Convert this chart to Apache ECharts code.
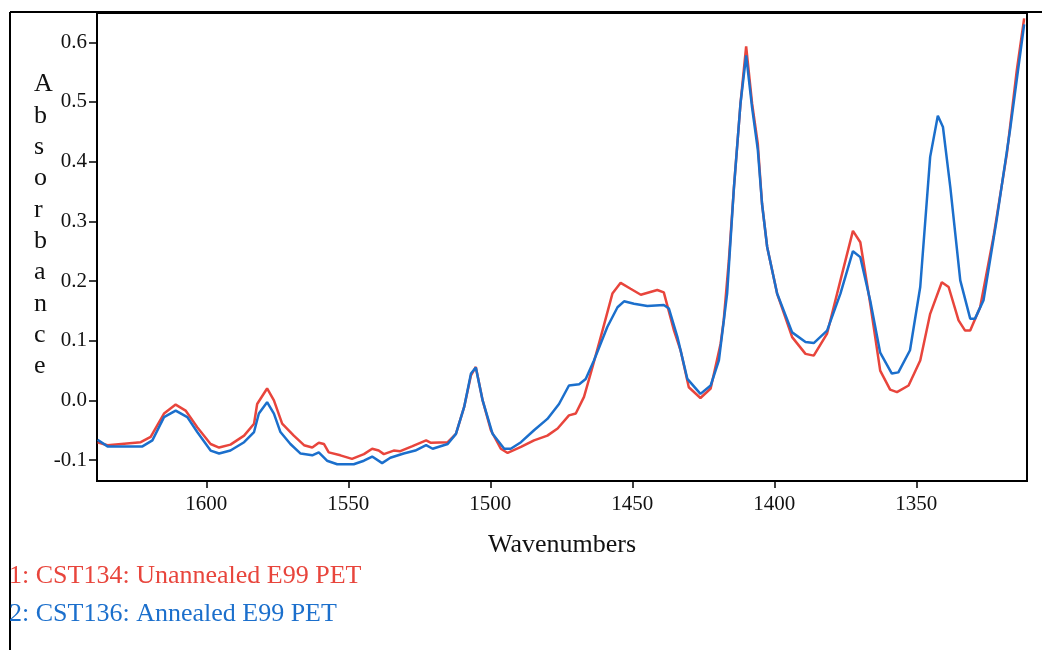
<!DOCTYPE html>
<html>
<head>
<meta charset="utf-8">
<script src="https://cdn.jsdelivr.net/npm/echarts@6/dist/echarts.min.js"></script>
<style>
  html, body { margin: 0; padding: 0; background: #fff; }
  #chart { width: 1042px; height: 650px; }
</style>
</head>
<body>
<div id="chart"></div>
<script>
// IR spectra, wavenumbers (x axis runs high -> low)
var redWn = [1638.3, 1634.8, 1623.1, 1619.6, 1614.9, 1610.8, 1607.3, 1603.2, 1598.5, 1595.5,
    1591.5, 1586.7, 1583.2, 1582.1, 1578.6, 1576.2, 1573.3, 1569.2, 1565.6, 1562.7,
    1560.4, 1558.6, 1556.9, 1552.8, 1548.7, 1544.5, 1541.6, 1539.3, 1537.5, 1534.0,
    1531.7, 1527.6, 1522.6, 1520.9, 1515.0, 1512.1, 1509.2, 1506.8, 1505.1, 1502.7,
    1499.8, 1496.3, 1493.9, 1489.2, 1484.6, 1479.9, 1476.3, 1472.3, 1469.9, 1467.0,
    1464.0, 1460.5, 1457.0, 1454.1, 1450.6, 1447.0, 1441.2, 1438.9, 1435.3, 1433.0,
    1430.1, 1426.0, 1422.4, 1418.9, 1417.8, 1416.0, 1414.2, 1411.9, 1409.9, 1407.8,
    1405.8, 1404.3, 1402.5, 1399.0, 1393.7, 1389.0, 1386.1, 1381.4, 1376.7, 1372.3,
    1369.7, 1366.2, 1362.7, 1359.2, 1356.8, 1352.7, 1348.6, 1345.1, 1341.0, 1338.6,
    1335.1, 1332.8, 1331.0, 1327.5, 1322.8, 1318.1, 1314.6, 1312.0];
var redAbs = [-0.070, -0.075, -0.070, -0.061, -0.022, -0.007, -0.017, -0.045, -0.073, -0.079,
    -0.074, -0.059, -0.039, -0.006, 0.020, 0.000, -0.039, -0.059, -0.075, -0.079,
    -0.071, -0.073, -0.087, -0.092, -0.098, -0.090, -0.081, -0.084, -0.090, -0.084,
    -0.085, -0.077, -0.067, -0.071, -0.070, -0.056, -0.011, 0.042, 0.056, 0.000,
    -0.050, -0.081, -0.088, -0.078, -0.067, -0.059, -0.047, -0.025, -0.022, 0.006,
    0.056, 0.117, 0.179, 0.197, 0.187, 0.177, 0.185, 0.181, 0.117, 0.084,
    0.022, 0.004, 0.020, 0.095, 0.134, 0.234, 0.357, 0.497, 0.593, 0.497,
    0.430, 0.329, 0.257, 0.179, 0.106, 0.078, 0.075, 0.112, 0.201, 0.284,
    0.265, 0.162, 0.050, 0.018, 0.014, 0.025, 0.067, 0.145, 0.198, 0.190,
    0.134, 0.117, 0.117, 0.156, 0.274, 0.413, 0.553, 0.640];

var blueWn = [1638.3, 1634.8, 1622.5, 1619.0, 1614.9, 1610.8, 1606.7, 1603.2, 1598.5, 1595.5,
    1591.5, 1586.7, 1583.2, 1581.5, 1578.6, 1576.2, 1573.9, 1570.4, 1566.8, 1562.7,
    1560.4, 1557.5, 1553.9, 1548.1, 1544.5, 1541.6, 1538.1, 1535.2, 1530.5, 1526.4,
    1522.6, 1520.3, 1515.0, 1512.1, 1509.2, 1506.8, 1505.1, 1502.7, 1499.2, 1495.1,
    1492.8, 1489.2, 1484.6, 1479.9, 1475.8, 1472.3, 1468.7, 1466.4, 1463.5, 1458.8,
    1455.2, 1452.9, 1449.4, 1444.7, 1438.9, 1437.1, 1434.1, 1430.6, 1426.0, 1422.4,
    1419.5, 1416.6, 1414.2, 1411.9, 1409.9, 1407.8, 1405.8, 1404.3, 1402.5, 1399.0,
    1393.7, 1389.0, 1386.1, 1381.4, 1376.7, 1372.3, 1369.7, 1366.2, 1362.7, 1358.6,
    1356.3, 1352.2, 1348.6, 1345.1, 1342.4, 1340.6, 1338.0, 1334.5, 1331.0, 1329.3,
    1326.3, 1321.7, 1317.0, 1312.0];
var blueAbs = [-0.066, -0.077, -0.077, -0.067, -0.028, -0.017, -0.028, -0.053, -0.084, -0.089,
    -0.084, -0.070, -0.053, -0.022, -0.003, -0.022, -0.053, -0.073, -0.089, -0.092,
    -0.087, -0.101, -0.107, -0.107, -0.101, -0.094, -0.105, -0.096, -0.089, -0.084,
    -0.075, -0.081, -0.073, -0.056, -0.011, 0.045, 0.055, 0.000, -0.056, -0.081,
    -0.081, -0.070, -0.050, -0.031, -0.006, 0.025, 0.027, 0.036, 0.067, 0.123,
    0.156, 0.166, 0.162, 0.158, 0.160, 0.154, 0.106, 0.036, 0.011, 0.025,
    0.067, 0.179, 0.357, 0.497, 0.578, 0.490, 0.420, 0.329, 0.257, 0.179,
    0.114, 0.098, 0.096, 0.117, 0.179, 0.250, 0.240, 0.167, 0.080, 0.045,
    0.047, 0.084, 0.190, 0.408, 0.477, 0.458, 0.357, 0.201, 0.137, 0.137,
    0.168, 0.302, 0.452, 0.630];

var xTicks = [1600, 1550, 1500, 1450, 1400, 1350];
var yTicks = [-0.1, 0.0, 0.1, 0.2, 0.3, 0.4, 0.5, 0.6];
var legendNames = ['1: CST134: Unannealed E99 PET', '2: CST136: Annealed E99 PET'];

var RED = '#e8453c';
var BLUE = '#1b6fcc';
var FONT = '"Liberation Serif", "DejaVu Serif", serif';

function pairs(xs, ys) {
    var out = [];
    for (var i = 0; i < xs.length; i++) {
        out.push([xs[i], ys[i]]);
    }
    return out;
}

var myChart = echarts.init(document.getElementById('chart'));
var option = {
    backgroundColor: '#fff',
    animation: false,
    grid: {
        left: 97, right: 15, top: 13, bottom: 169,
        show: true, borderColor: '#000', borderWidth: 2, backgroundColor: 'transparent'
    },
    xAxis: {
        type: 'value',
        inverse: true,
        min: 1311,
        max: 1638.5,
        name: 'Wavenumbers',
        nameLocation: 'middle',
        nameGap: 51,
        nameTextStyle: { fontFamily: FONT, fontSize: 26, color: '#111' },
        axisLine: { onZero: false, lineStyle: { color: '#000', width: 2 } },
        axisTick: { show: true, length: 7, customValues: xTicks, lineStyle: { color: '#000', width: 1.5 } },
        axisLabel: {
            customValues: xTicks, margin: 13, fontFamily: FONT, fontSize: 21, color: '#111',
            formatter: function (v) { return String(v); }
        },
        splitLine: { show: false }
    },
    yAxis: {
        type: 'value',
        min: -0.135,
        max: 0.649,
        axisLine: { show: true, onZero: false, lineStyle: { color: '#000', width: 2 } },
        axisTick: { show: true, length: 8, customValues: yTicks, lineStyle: { color: '#000', width: 1.5 } },
        axisLabel: {
            customValues: yTicks, margin: 10, fontFamily: FONT, fontSize: 21, color: '#111',
            formatter: function (v) { return v.toFixed(1); }
        },
        splitLine: { show: false }
    },
    graphic: [
        // outer frame (top and left edges)
        { type: 'line', shape: { x1: 10, y1: 12, x2: 1042, y2: 12 }, style: { stroke: '#000', lineWidth: 2 } },
        { type: 'line', shape: { x1: 10, y1: 12, x2: 10, y2: 650 }, style: { stroke: '#000', lineWidth: 2 } },
        // stacked y axis title
        {
            type: 'text', left: 34, top: 69,
            style: {
                text: 'A\nb\ns\no\nr\nb\na\nn\nc\ne',
                font: '26px ' + FONT, fill: '#111', align: 'center', lineHeight: 31.3,
                x: 12
            }
        },
        { type: 'text', left: 9, top: 563, style: { text: legendNames[0], font: '26px ' + FONT, fill: RED } },
        { type: 'text', left: 9, top: 601, style: { text: legendNames[1], font: '26px ' + FONT, fill: BLUE } }
    ],
    series: [
        {
            name: legendNames[0], type: 'line', data: pairs(redWn, redAbs),
            showSymbol: false, lineStyle: { color: RED, width: 2.5 }, z: 2
        },
        {
            name: legendNames[1], type: 'line', data: pairs(blueWn, blueAbs),
            showSymbol: false, lineStyle: { color: BLUE, width: 2.5 }, z: 3
        }
    ]
};
myChart.setOption(option);
</script>
</body>
</html>
